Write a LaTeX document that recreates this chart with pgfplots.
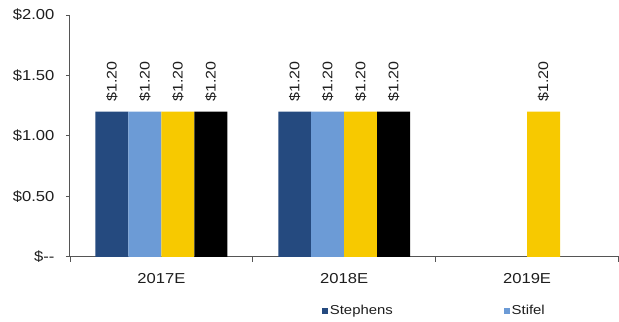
\documentclass[border=0pt]{standalone}
\usepackage{fontspec}
\setmainfont{Liberation Sans}[FakeStretch=1.15]
\usepackage{pgfplots}
\pgfplotsset{compat=1.18}

\definecolor{stephens}{RGB}{37,74,127}
\definecolor{stifel}{RGB}{108,155,214}
\definecolor{gold}{RGB}{247,201,0}
\definecolor{axisgray}{RGB}{85,85,85}
\definecolor{txt}{RGB}{30,30,30}

\begin{document}
\begin{tikzpicture}
\begin{axis}[
  name=ax,
  scale only axis,
  width=549bp, height=242bp,
  xmin=-0.5, xmax=2.5, ymin=0, ymax=2,
  axis lines*=left,
  axis line style={axisgray, line width=1bp},
  ytick={0,0.5,1,1.5,2},
  yticklabels={\$-{}-,\$0.50,\$1.00,\$1.50,\$2.00},
  xtick={0,1,2},
  xticklabels={2017E,2018E,2019E},
  minor xtick={-0.5,0.5,1.5,2.5},
  tick align=outside,
  major tick length=4bp,
  minor tick length=5bp,
  tick style={axisgray, line width=0.8bp},
  major x tick style={draw=none},
  every tick label/.append style={font=\fontsize{14.5}{14.5}\selectfont, text=txt},
  yticklabel style={xshift=-8bp},
  xticklabel style={yshift=-9bp},
  /pgf/number format/assume math mode=true,
  ybar=0pt, bar width=33bp,
  every axis plot/.append style={draw=none},
  nodes near coords={\$\pgfmathprintnumber[fixed,fixed zerofill,precision=2]{\pgfplotspointmeta}},
  nodes near coords style={rotate=90, anchor=west, inner xsep=10bp, inner ysep=0bp,
    font=\fontsize{14}{14}\selectfont, text=txt},
  legend columns=2,
  legend style={at={(0.459,0)}, anchor=west, yshift=-54bp, draw=none, fill=none,
    inner sep=0pt, font=\fontsize{13}{13}\selectfont, text=txt,
    /tikz/every even column/.append style={column sep=109bp}},
  legend image code/.code={\fill[#1] (0bp,-3bp) rectangle (6bp,3bp);},
]
% Stephens
\addplot[fill=stephens] coordinates {(0,1.20) (1,1.20)};
\addlegendentry{Stephens}
% Stifel
\addplot[fill=stifel] coordinates {(0,1.20) (1,1.20)};
\addlegendentry{Stifel}
% third broker
\addplot[fill=gold] coordinates {(0,1.20) (1,1.20) (2,1.20)};
% fourth broker
\addplot[fill=black] coordinates {(0,1.20) (1,1.20)};
\end{axis}
\path[use as bounding box] ([xshift=-70bp,yshift=-65bp]ax.south west)
  rectangle ([yshift=15bp]ax.north east);
\end{tikzpicture}
\end{document}
